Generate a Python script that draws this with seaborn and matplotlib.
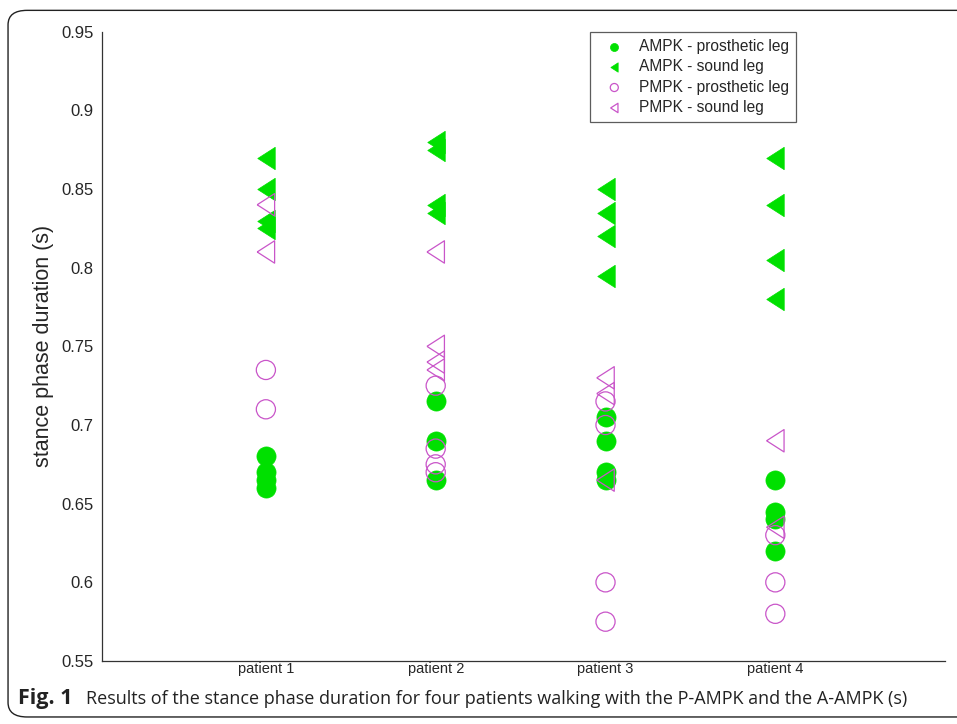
import numpy as np
import pandas as pd
import matplotlib
matplotlib.use("Agg")
import matplotlib.pyplot as plt
import seaborn as sns
from matplotlib.patches import FancyBboxPatch

# values (stance phase duration, s)
patients = ["patient 1", "patient 2", "patient 3", "patient 4"]

ampk_prosthetic = {
    1: [0.68, 0.67, 0.665, 0.66],
    2: [0.715, 0.69, 0.665],
    3: [0.705, 0.69, 0.67, 0.665],
    4: [0.665, 0.645, 0.64, 0.62],
}
ampk_sound = {
    1: [0.87, 0.85, 0.83, 0.825],
    2: [0.88, 0.875, 0.84, 0.835],
    3: [0.85, 0.835, 0.82, 0.795],
    4: [0.87, 0.84, 0.805, 0.78],
}
pmpk_prosthetic = {
    1: [0.735, 0.71],
    2: [0.725, 0.685, 0.675, 0.67],
    3: [0.715, 0.70, 0.60, 0.575],
    4: [0.63, 0.60, 0.58],
}
pmpk_sound = {
    1: [0.84, 0.81],
    2: [0.81, 0.75, 0.74, 0.735],
    3: [0.73, 0.72, 0.665],
    4: [0.69, 0.635],
}

green = "#00e000"
purple = "#c955c9"

# left-pointing triangle, a bit taller than wide (like the matlab marker)
tri = [(-0.78, 0.0), (0.78, 1.0), (0.78, -1.0), (-0.78, 0.0)]


def to_df(d):
    rows = [(p, v) for p, vals in d.items() for v in vals]
    return pd.DataFrame(rows, columns=["patient", "duration"])


sns.set_style("white")
plt.rcParams["font.family"] = ["Liberation Sans", "DejaVu Sans"]

fig = plt.figure(figsize=(9.57, 7.24), dpi=100)
ax = fig.add_axes([0.1066, 0.087, 0.881, 0.8692])

sns.scatterplot(data=to_df(ampk_prosthetic), x="patient", y="duration", ax=ax,
                marker="o", s=190, color=green, edgecolor=green, linewidth=0.5,
                label="AMPK - prosthetic leg", zorder=3)
sns.scatterplot(data=to_df(ampk_sound), x="patient", y="duration", ax=ax,
                marker=tri, s=260, color=green, edgecolor=green, linewidth=0.5,
                label="AMPK - sound leg", zorder=3)
sns.scatterplot(data=to_df(pmpk_prosthetic), x="patient", y="duration", ax=ax,
                marker="o", s=190, facecolor="none", edgecolor=purple, linewidth=0.9,
                label="PMPK - prosthetic leg", zorder=4)
sns.scatterplot(data=to_df(pmpk_sound), x="patient", y="duration", ax=ax,
                marker=tri, s=260, facecolor="none", edgecolor=purple, linewidth=0.9,
                label="PMPK - sound leg", zorder=4)

ax.set_xlim(0.035, 5)
ax.set_ylim(0.55, 0.95)
ax.set_xticks([1, 2, 3, 4, 5])
ax.set_xticklabels(patients + [""], fontsize=10.5)
ax.set_yticks([0.55, 0.6, 0.65, 0.7, 0.75, 0.8, 0.85, 0.9, 0.95])
ax.set_yticklabels(["0.55", "0.6", "0.65", "0.7", "0.75", "0.8", "0.85", "0.9", "0.95"],
                   fontsize=12)
ax.tick_params(direction="in", length=6, width=0.8, color="#333333")
ax.tick_params(axis="y", pad=6)
ax.tick_params(axis="x", pad=1)
ax.set_xlabel("")
ax.set_ylabel("stance phase duration (s)", fontsize=15.5, labelpad=5)
for side in ["top", "right"]:
    ax.spines[side].set_visible(False)
for side in ["left", "bottom"]:
    ax.spines[side].set_color("#333333")
    ax.spines[side].set_linewidth(0.9)

leg = ax.legend(loc="upper left", bbox_to_anchor=(0.579, 1.0), borderaxespad=0,
                fontsize=11.2, frameon=True, fancybox=False, edgecolor="#333333",
                markerscale=0.42, handletextpad=0.5, borderpad=0.45, labelspacing=0.35,
                handlelength=2.2)
leg.get_frame().set_linewidth(0.9)

# caption and rounded frame around the figure
fig.text(0.019, 0.035, "Fig. 1", fontsize=15.5, fontweight="bold",
         family=["Open Sans", "DejaVu Sans"], color="#222222", va="center")
fig.text(0.09, 0.035,
         "Results of the stance phase duration for four patients walking with the P-AMPK and the A-AMPK (s)",
         fontsize=13.0, family=["Open Sans", "DejaVu Sans"], color="#222222", va="center")
frame = FancyBboxPatch((0.0084, 0.0097), 1.1, 0.976, boxstyle="round,pad=0,rounding_size=0.02",
                       transform=fig.transFigure, fill=False, edgecolor="#222222",
                       linewidth=1.0, clip_on=False)
fig.patches.append(frame)

plt.savefig("out.png", dpi=100)
